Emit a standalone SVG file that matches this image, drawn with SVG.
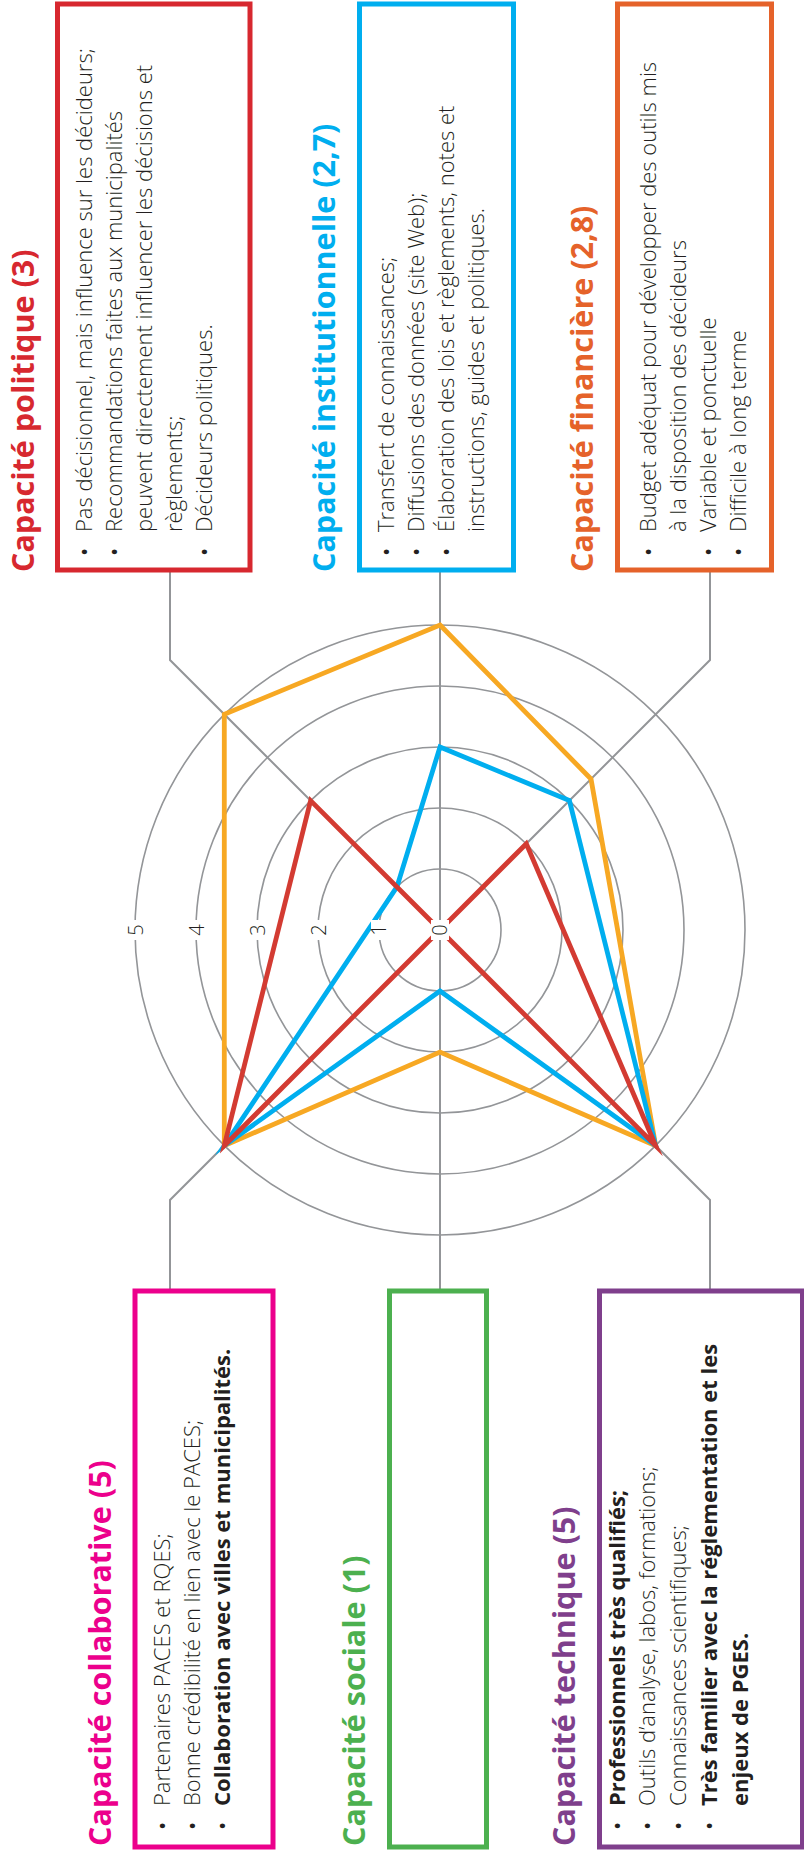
<svg xmlns="http://www.w3.org/2000/svg" width="804" height="1860" viewBox="0 0 804 1860">
<style>
.bg{fill:#ffffff}
.box{fill:#ffffff;stroke-width:5}
.title{font-family:"Open Sans","Liberation Sans",sans-serif;font-weight:700;font-size:30.5px}
.body{font-family:"Open Sans","Liberation Sans",sans-serif;font-weight:300;font-size:22px;fill:#231f20}
.bul{font-weight:400}
.b{font-weight:700}
.grid{fill:none;stroke:#939598;stroke-width:1.6}
.axis{fill:none;stroke:#939598;stroke-width:2}
.series{fill:none;stroke-width:4.8;stroke-linejoin:miter;stroke-miterlimit:10}
.tick{font-family:"Open Sans","Liberation Sans",sans-serif;font-weight:300;font-size:20px;fill:#231f20;text-anchor:middle}
.tickbg{fill:#ffffff}
.red{stroke:#d7282f}.redt{fill:#d7282f}
.blue{stroke:#00aeef}.bluet{fill:#00aeef}
.orange{stroke:#e5622a}.oranget{fill:#e5622a}
.pink{stroke:#ec008c}.pinkt{fill:#ec008c}
.green{stroke:#4cb04f}.greent{fill:#4cb04f}
.purple{stroke:#7f3f8c}.purplet{fill:#7f3f8c}
</style>
<rect class="bg" x="0" y="0" width="804" height="1860"/>

<g id="radar-grid">
<circle class="grid" cx="440" cy="930" r="61"/>
<circle class="grid" cx="440" cy="930" r="122"/>
<circle class="grid" cx="440" cy="930" r="183"/>
<circle class="grid" cx="440" cy="930" r="244"/>
<circle class="grid" cx="440" cy="930" r="305"/>
</g>

<g id="connectors">
<polyline class="axis" points="440,930 440,570"/>
<polyline class="axis" points="440,930 170,660 170,570"/>
<polyline class="axis" points="440,930 710,660 710,570"/>
<polyline class="axis" points="440,930 440,1291"/>
<polyline class="axis" points="440,930 170,1200 170,1291"/>
<polyline class="axis" points="440,930 710,1200 710,1291"/>
</g>

<g id="series">
<polygon class="series" stroke="#f7a823" points="440,625 591,779 655.7,1145.7 440,1052 224.3,1145.7 224.3,714.3"/>
<polygon class="series" stroke="#00aeef" points="440,747 569.4,800.6 655.7,1145.7 440,991 224.3,1145.7 396.9,886.9"/>
<polygon class="series" stroke="#d33b32" points="440,930 526.3,843.7 655.7,1145.7 440,930 224.3,1145.7 310.6,800.6"/>
</g>

<g id="scale-labels">
<rect class="tickbg" x="431" y="920" width="18" height="20"/>
<text class="tick" transform="translate(447,930) rotate(-90)">0</text>
<rect class="tickbg" x="371" y="920" width="18" height="20"/>
<text class="tick" transform="translate(386,930) rotate(-90)">1</text>
<rect class="tickbg" x="310" y="920" width="18" height="20"/>
<text class="tick" transform="translate(326,930) rotate(-90)">2</text>
<rect class="tickbg" x="249" y="920" width="18" height="20"/>
<text class="tick" transform="translate(265,930) rotate(-90)">3</text>
<rect class="tickbg" x="188" y="920" width="18" height="20"/>
<text class="tick" transform="translate(204,930) rotate(-90)">4</text>
<rect class="tickbg" x="127" y="920" width="18" height="20"/>
<text class="tick" transform="translate(143,930) rotate(-90)">5</text>
</g>

<g id="node-politique">
<rect class="box red" x="57.5" y="4" width="192.5" height="566"/>
<text class="title redt" transform="translate(34,572) rotate(-90)">Capacité politique (3)</text>
<text class="body bul" transform="translate(92,556) rotate(-90)">•</text>
<text class="body" transform="translate(92,532) rotate(-90)">Pas décisionnel, mais influence sur les décideurs;</text>
<text class="body bul" transform="translate(122,556) rotate(-90)">•</text>
<text class="body" transform="translate(122,532) rotate(-90)">Recommandations faites aux municipalités</text>
<text class="body" transform="translate(152,532) rotate(-90)">peuvent directement influencer les décisions et</text>
<text class="body" transform="translate(182,532) rotate(-90)">règlements;</text>
<text class="body bul" transform="translate(212,556) rotate(-90)">•</text>
<text class="body" transform="translate(212,532) rotate(-90)">Décideurs politiques.</text>
</g>

<g id="node-institutionnelle">
<rect class="box blue" x="359.5" y="4" width="154" height="566"/>
<text class="title bluet" transform="translate(335,572) rotate(-90)">Capacité institutionnelle (2,7)</text>
<text class="body bul" transform="translate(394,556) rotate(-90)">•</text>
<text class="body" transform="translate(394,532) rotate(-90)">Transfert de connaissances;</text>
<text class="body bul" transform="translate(424,556) rotate(-90)">•</text>
<text class="body" transform="translate(424,532) rotate(-90)">Diffusions des données (site Web);</text>
<text class="body bul" transform="translate(454,556) rotate(-90)">•</text>
<text class="body" transform="translate(454,532) rotate(-90)">Élaboration des lois et règlements, notes et</text>
<text class="body" transform="translate(484,532) rotate(-90)">instructions, guides et politiques.</text>
</g>

<g id="node-financiere">
<rect class="box orange" x="617.5" y="4" width="154" height="566"/>
<text class="title oranget" transform="translate(593,572) rotate(-90)">Capacité financière (2,8)</text>
<text class="body bul" transform="translate(655.5,556) rotate(-90)">•</text>
<text class="body" transform="translate(655.5,532) rotate(-90)">Budget adéquat pour développer des outils mis</text>
<text class="body" transform="translate(685.5,532) rotate(-90)">à la disposition des décideurs</text>
<text class="body bul" transform="translate(715.5,556) rotate(-90)">•</text>
<text class="body" transform="translate(715.5,532) rotate(-90)">Variable et ponctuelle</text>
<text class="body bul" transform="translate(745.5,556) rotate(-90)">•</text>
<text class="body" transform="translate(745.5,532) rotate(-90)">Difficile à long terme</text>
</g>

<g id="node-collaborative">
<rect class="box pink" x="135" y="1291" width="138" height="556"/>
<text class="title pinkt" transform="translate(110.5,1846) rotate(-90)">Capacité collaborative (5)</text>
<text class="body bul" transform="translate(169.5,1830) rotate(-90)">•</text>
<text class="body" transform="translate(169.5,1806) rotate(-90)">Partenaires PACES et RQES;</text>
<text class="body bul" transform="translate(199.5,1830) rotate(-90)">•</text>
<text class="body" transform="translate(199.5,1806) rotate(-90)">Bonne crédibilité en lien avec le PACES;</text>
<text class="body bul" transform="translate(229.5,1830) rotate(-90)">•</text>
<text class="body b" transform="translate(229.5,1806) rotate(-90)">Collaboration avec villes et municipalités.</text>
</g>

<g id="node-sociale">
<rect class="box green" x="389.5" y="1291" width="97" height="556"/>
<text class="title greent" transform="translate(365,1846) rotate(-90)">Capacité sociale (1)</text>
</g>

<g id="node-technique">
<rect class="box purple" x="599.5" y="1291" width="203" height="556"/>
<text class="title purplet" transform="translate(575,1846) rotate(-90)">Capacité technique (5)</text>
<text class="body bul" transform="translate(625,1830) rotate(-90)">•</text>
<text class="body b" transform="translate(625,1806) rotate(-90)">Professionnels très qualifiés;</text>
<text class="body bul" transform="translate(655,1830) rotate(-90)">•</text>
<text class="body" transform="translate(655,1806) rotate(-90)">Outils d’analyse, labos, formations;</text>
<text class="body bul" transform="translate(686,1830) rotate(-90)">•</text>
<text class="body" transform="translate(686,1806) rotate(-90)">Connaissances scientifiques;</text>
<text class="body bul" transform="translate(717,1830) rotate(-90)">•</text>
<text class="body b" transform="translate(717,1806) rotate(-90)">Très familier avec la réglementation et les</text>
<text class="body b" transform="translate(748,1806) rotate(-90)">enjeux de PGES.</text>
</g>
</svg>
